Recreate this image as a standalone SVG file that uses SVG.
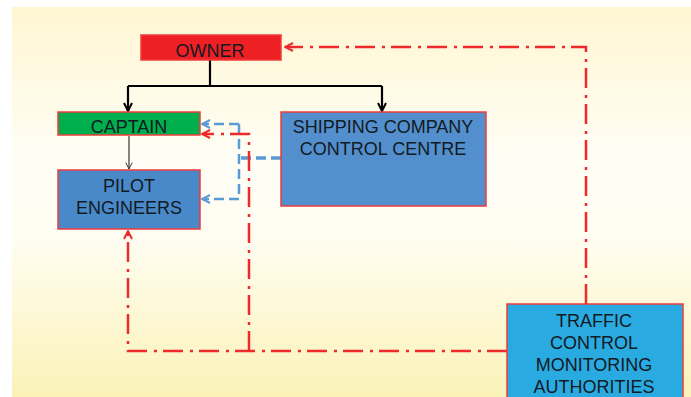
<svg xmlns="http://www.w3.org/2000/svg" width="691" height="397" viewBox="0 0 691 397">
<defs>
<linearGradient id="bg" x1="0" y1="0" x2="0" y2="1">
<stop offset="0" stop-color="#fff6d2"/>
<stop offset="0.4" stop-color="#fffef6"/>
<stop offset="0.6" stop-color="#fffdf0"/>
<stop offset="1" stop-color="#fbf2b8"/>
</linearGradient>
<marker id="ablk" viewBox="0 0 10 10" refX="9" refY="5" markerWidth="10" markerHeight="10" markerUnits="userSpaceOnUse" orient="auto">
<path d="M1,1 L9,5 L1,9" fill="none" stroke="#000" stroke-width="2"/>
</marker>
<marker id="athin" viewBox="0 0 10 10" refX="9" refY="5" markerWidth="8" markerHeight="8" markerUnits="userSpaceOnUse" orient="auto">
<path d="M1,1 L9,5 L1,9" fill="none" stroke="#333" stroke-width="1.2"/>
</marker>
<marker id="ared" viewBox="0 0 10 10" refX="9" refY="5" markerWidth="10" markerHeight="10" markerUnits="userSpaceOnUse" orient="auto">
<path d="M1,1 L9,5 L1,9" fill="none" stroke="#ee2a2a" stroke-width="2"/>
</marker>
<marker id="ablue" viewBox="0 0 10 10" refX="9" refY="5" markerWidth="10" markerHeight="10" markerUnits="userSpaceOnUse" orient="auto">
<path d="M1,1 L9,5 L1,9" fill="none" stroke="#5b9bd5" stroke-width="2"/>
</marker>
</defs>
<style>
.box{stroke:#ee3b3b;stroke-width:1.5}
.t{font-family:"Liberation Sans",Arial,sans-serif;font-size:18px;fill:#121a22;text-anchor:middle}
.red{fill:none;stroke:#ee2a2a;stroke-width:2.5;stroke-dasharray:20 6 3 7}
.blue{fill:none;stroke:#5b9bd5;stroke-width:2.5;stroke-dasharray:10 5}
</style>
<rect x="0" y="0" width="691" height="397" fill="#ffffff"/>
<rect x="12" y="7" width="679" height="390" fill="url(#bg)"/>

<g id="connectors">
<path d="M210,60 V86 M128,86 H382" fill="none" stroke="#000" stroke-width="2.2"/>
<path d="M128,86 V111" fill="none" stroke="#000" stroke-width="2.2" marker-end="url(#ablk)"/>
<path d="M382,86 V111" fill="none" stroke="#000" stroke-width="2.2" marker-end="url(#ablk)"/>
<path d="M129,136 V169" fill="none" stroke="#333" stroke-width="1.2" marker-end="url(#athin)"/>
<path class="blue" d="M281,158 H239" style="stroke-width:3.5"/>
<path class="blue" d="M239,124 V199"/>
<path class="blue" d="M239,124 H202" marker-end="url(#ablue)"/>
<path class="blue" d="M239,199 H202" marker-end="url(#ablue)"/>
<path class="red" d="M507,351 H128 V231" marker-end="url(#ared)"/>
<path class="red" d="M249,351 V134 H202" marker-end="url(#ared)"/>
<path class="red" d="M586,304 V47 H285" marker-end="url(#ared)"/>
</g>

<g id="owner">
<rect class="box" x="141" y="35" width="140" height="25" fill="#ee2024"/>
<text class="t" x="210" y="57">OWNER</text>
</g>
<g id="captain">
<rect class="box" x="58" y="112" width="142" height="23" fill="#00ae4d"/>
<text class="t" x="129" y="133">CAPTAIN</text>
</g>
<g id="pilot">
<rect class="box" x="58" y="170" width="142" height="59" fill="#4a89c9"/>
<text class="t" x="129" y="192">PILOT</text>
<text class="t" x="129" y="214">ENGINEERS</text>
</g>
<g id="shipping">
<rect class="box" x="281" y="112" width="205" height="94" fill="#538fcd"/>
<text class="t" x="383" y="133">SHIPPING COMPANY</text>
<text class="t" x="383" y="155">CONTROL CENTRE</text>
</g>
<g id="traffic">
<rect class="box" x="507" y="304" width="176" height="100" fill="#29abe2"/>
<text class="t" x="594" y="327">TRAFFIC</text>
<text class="t" x="594" y="349">CONTROL</text>
<text class="t" x="594" y="371">MONITORING</text>
<text class="t" x="594" y="393">AUTHORITIES</text>
</g>
</svg>
